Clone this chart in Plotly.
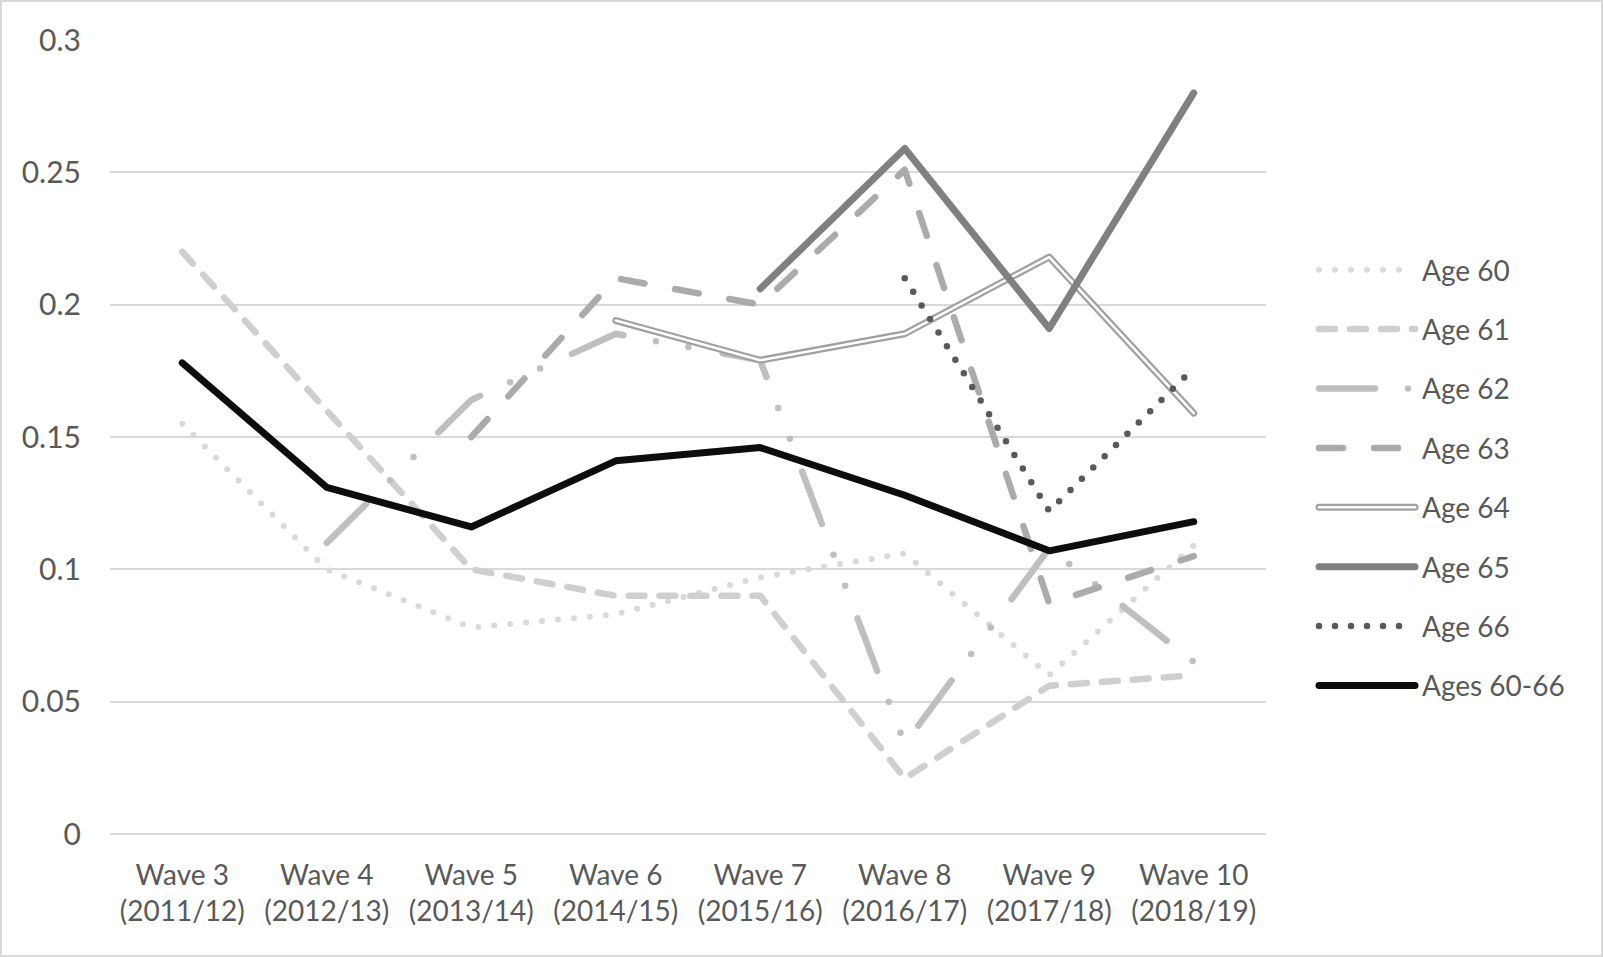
import plotly.graph_objects as go

waves = ["Wave 3<br>(2011/12)", "Wave 4<br>(2012/13)", "Wave 5<br>(2013/14)", "Wave 6<br>(2014/15)",
         "Wave 7<br>(2015/16)", "Wave 8<br>(2016/17)", "Wave 9<br>(2017/18)", "Wave 10<br>(2018/19)"]

age60 = [0.155, 0.100, 0.078, 0.083, 0.097, 0.106, 0.060, 0.109]
age61 = [0.220, 0.160, 0.100, 0.090, 0.090, 0.021, 0.056, 0.060]
age62 = [None, 0.110, 0.164, 0.189, 0.179, 0.034, 0.108, 0.065]
age63 = [None, None, 0.150, 0.210, 0.200, 0.251, 0.087, 0.105]
age64 = [None, None, None, 0.194, 0.179, 0.189, 0.218, 0.159]
age65 = [None, None, None, None, 0.206, 0.259, 0.191, 0.280]
age66 = [None, None, None, None, None, 0.210, 0.122, 0.176]
ages_all = [0.178, 0.131, 0.116, 0.141, 0.146, 0.128, 0.107, 0.118]

ytick_vals = [0, 0.05, 0.1, 0.15, 0.2, 0.25, 0.3]
ytick_text = ["0", "0.05", "0.1", "0.15", "0.2", "0.25", "0.3"]

W, H = 1603, 957
ML, MR, MT, MB = 110, 337, 40, 123
PW, PH = W - ML - MR, H - MT - MB

FONT = "Lato"
TXT = "#595959"

series = [
    ("Age 60", age60, "#d9d9d9", 6, "0px,16px"),
    ("Age 61", age61, "#cfcfcf", 6.5, "16px,15px"),
    ("Age 62", age62, "#bfbfbf", 6.5, "56px,33px,0px,33px,0px,35px"),
    ("Age 63", age63, "#ababab", 6.5, "24px,31px"),
    ("Age 64", age64, "#a0a0a0", 7, "solid"),
    ("Age 65", age65, "#808080", 7, "solid"),
    ("Age 66", age66, "#595959", 6.5, "0px,16px"),
    ("Ages 60-66", ages_all, "#0d0d0d", 7, "solid"),
]

fig = go.Figure()
for i, (name, vals, col, w, dash) in enumerate(series):
    fig.add_trace(go.Scatter(
        x=waves, y=vals, name=name, mode="lines",
        line=dict(color=col, width=w, dash=dash),
        legendgroup=f"g{i}", connectgaps=False, hoverinfo="skip"))
    if name == "Age 64":
        fig.add_trace(go.Scatter(
            x=waves, y=vals, name=name, mode="lines",
            line=dict(color="#ffffff", width=2.5),
            legendgroup=f"g{i}", showlegend=False, hoverinfo="skip"))

def px_x(p):
    return (p - ML) / PW

def px_y(p):
    return (H - MB - p) / PH

fig.add_shape(type="rect", xref="paper", yref="paper",
              x0=px_x(1), x1=px_x(W - 1), y0=px_y(H - 1), y1=px_y(1),
              line=dict(color="#d9d9d9", width=2), fillcolor="rgba(0,0,0,0)", layer="below")

fig.update_layout(
    width=W, height=H,
    margin=dict(l=ML, r=MR, t=MT, b=MB, pad=0),
    paper_bgcolor="white", plot_bgcolor="white",
    font=dict(family=FONT, color=TXT, size=28),
    showlegend=True,
    legend=dict(x=px_x(1312), xanchor="left", y=px_y(478), yanchor="middle",
                font=dict(family=FONT, size=28, color=TXT), itemwidth=100,
                tracegroupgap=20, traceorder="grouped", bgcolor="rgba(0,0,0,0)"),
    xaxis=dict(type="category", range=[-0.5, 7.5], showgrid=False, showline=False,
               zeroline=False, ticks="", tickfont=dict(family=FONT, size=28, color=TXT),
               ticklabelstandoff=22),
    yaxis=dict(range=[0, 0.3], tickvals=ytick_vals, ticktext=ytick_text,
               showgrid=True, gridcolor="#d9d9d9", gridwidth=2,
               zeroline=True, zerolinecolor="#d9d9d9", zerolinewidth=2,
               showline=False, ticks="", tickfont=dict(family=FONT, size=30, color=TXT),
               ticklabelstandoff=28),
)

post = """
var gd = document.getElementById('{plot_id}');
function fixStyles(){
  document.body.style.margin='0';
  gd.querySelectorAll('path.js-line').forEach(function(p){
    p.style.strokeLinecap='round'; p.style.strokeLinejoin='round';
  });
  gd.querySelectorAll('.legend g.traces').forEach(function(it){
    var p = it.querySelector('path.js-line');
    if(!p) return;
    p.setAttribute('d', 'M7,0h96');
    var t = it.querySelector('text.legendtext');
    if(t && t.textContent === 'Age 64' && !it.querySelector('path.inner64')){
      var c = p.cloneNode(true);
      c.setAttribute('class', 'inner64');
      c.style.stroke = '#ffffff';
      c.style.strokeWidth = '2.5px';
      c.style.strokeLinecap = 'round';
      p.parentNode.appendChild(c);
    }
  });
}
fixStyles(); setTimeout(fixStyles, 30); setTimeout(fixStyles, 300);
gd.on('plotly_afterplot', fixStyles);
"""

fig.write_html("out.html", post_script=post, config={"displayModeBar": False})
